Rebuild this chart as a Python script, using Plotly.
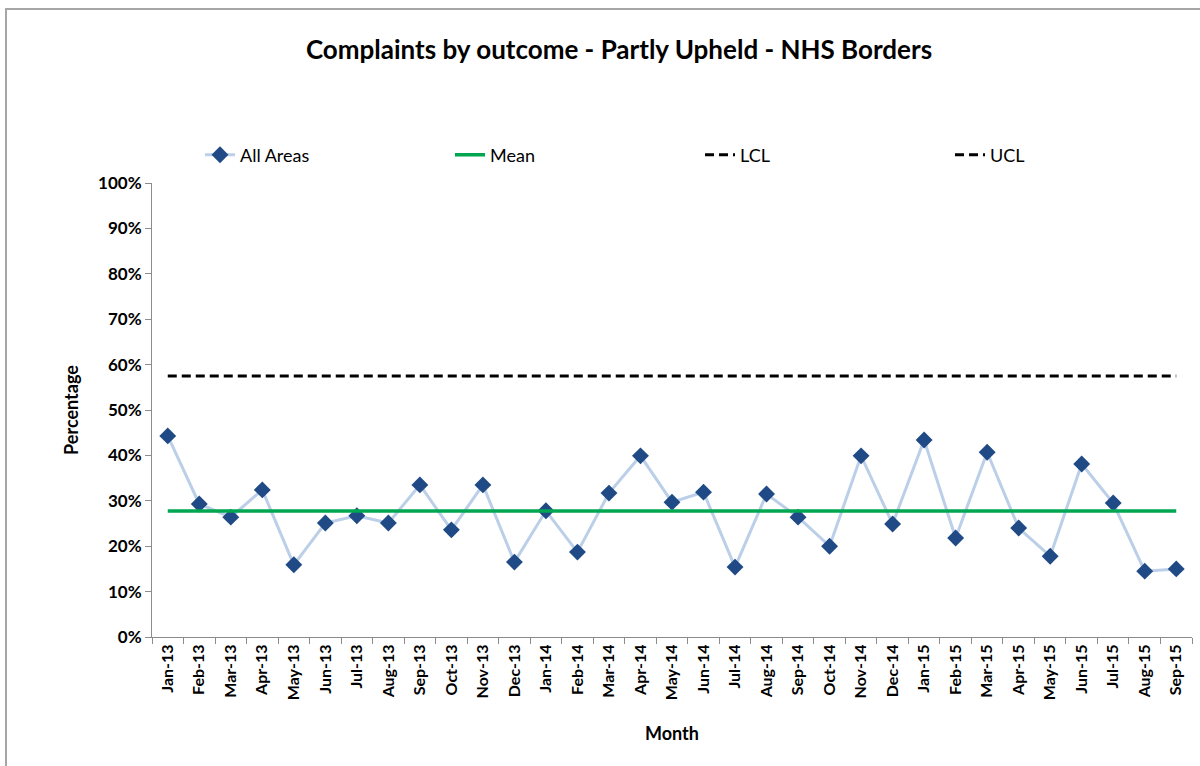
import plotly.graph_objects as go

months = ["Jan-13","Feb-13","Mar-13","Apr-13","May-13","Jun-13","Jul-13","Aug-13","Sep-13","Oct-13","Nov-13","Dec-13",
          "Jan-14","Feb-14","Mar-14","Apr-14","May-14","Jun-14","Jul-14","Aug-14","Sep-14","Oct-14","Nov-14","Dec-14",
          "Jan-15","Feb-15","Mar-15","Apr-15","May-15","Jun-15","Jul-15","Aug-15","Sep-15"]
all_areas = [0.443, 0.293, 0.264, 0.324, 0.159, 0.251, 0.267, 0.251, 0.335, 0.236, 0.335, 0.165,
             0.278, 0.187, 0.317, 0.399, 0.297, 0.319, 0.154, 0.315, 0.264, 0.200, 0.399, 0.249,
             0.434, 0.218, 0.407, 0.240, 0.178, 0.381, 0.295, 0.145, 0.150]
mean_val = 0.2775
ucl_val = 0.575
lcl_val = -0.02

mean = [mean_val] * len(months)
ucl = [ucl_val] * len(months)
lcl = [lcl_val] * len(months)

FONT = "Lato"

fig = go.Figure()
fig.add_trace(go.Scatter(x=months, y=all_areas, name="All Areas", mode="lines+markers",
                         line=dict(color="#BCCFE8", width=3),
                         marker=dict(symbol="diamond", size=13, color="#1F4A85")))
fig.add_trace(go.Scatter(x=months, y=mean, name="Mean", mode="lines",
                         line=dict(color="#00A650", width=3.5)))
fig.add_trace(go.Scatter(x=months, y=lcl, name="LCL", mode="lines",
                         line=dict(color="black", width=3, dash="9px,5px")))
fig.add_trace(go.Scatter(x=months, y=ucl, name="UCL", mode="lines",
                         line=dict(color="black", width=3, dash="9px,5px")))

L, R, T, B = 152, 8, 183, 129
W, H = 1200, 766
pw, ph = W - L - R, H - T - B

fig.update_layout(
    width=W, height=H,
    margin=dict(l=L, r=R, t=T, b=B, autoexpand=False),
    paper_bgcolor="white", plot_bgcolor="white",
    font=dict(family=FONT, color="black"),
    title=dict(text="Complaints by outcome - Partly Upheld - NHS Borders",
               x=619 / W, xanchor="center", y=1 - 50 / H, yanchor="middle",
               font=dict(family=FONT, size=26, color="black", weight="bold")),
    showlegend=True,
    legend=dict(orientation="h", xref="container", x=200 / W, xanchor="left",
                yref="container", y=1 - 155 / H, yanchor="middle",
                entrywidth=205, entrywidthmode="pixels",
                font=dict(family=FONT, size=18, color="black"),
                bgcolor="rgba(0,0,0,0)", itemclick=False),
    xaxis=dict(type="category", range=[-0.5, len(months) - 0.5], tickangle=-90, tickson="boundaries",
               ticks="outside", ticklen=6, tickcolor="#8c8c8c",
               showline=True, linecolor="#8c8c8c", linewidth=1,
               showgrid=False, zeroline=False,
               tickfont=dict(family=FONT, size=16, color="black", weight="bold"),
               title=dict(text="Month", standoff=28,
                          font=dict(family=FONT, size=18, color="black", weight="bold"))),
    yaxis=dict(range=[0, 1], tickvals=[i / 10 for i in range(11)], tickformat=".0%",
               ticks="outside", ticklen=6, tickcolor="#8c8c8c",
               showline=True, linecolor="#8c8c8c", linewidth=1,
               showgrid=False, zeroline=False,
               tickfont=dict(family=FONT, size=17, color="black", weight="bold"),
               title=dict(text="Percentage", standoff=14,
                          font=dict(family=FONT, size=18, color="black", weight="bold"))),
)

# outer chart border (partly off-canvas, like the cropped reference)
fig.add_shape(type="rect", xref="paper", yref="paper",
              x0=(6 - L) / pw, x1=(1210 - L) / pw,
              y0=(637 - 780) / ph, y1=(637 - 9) / ph,
              line=dict(color="#A6A6A6", width=2), fillcolor="rgba(0,0,0,0)", layer="below")

fig.write_html("out.html")
